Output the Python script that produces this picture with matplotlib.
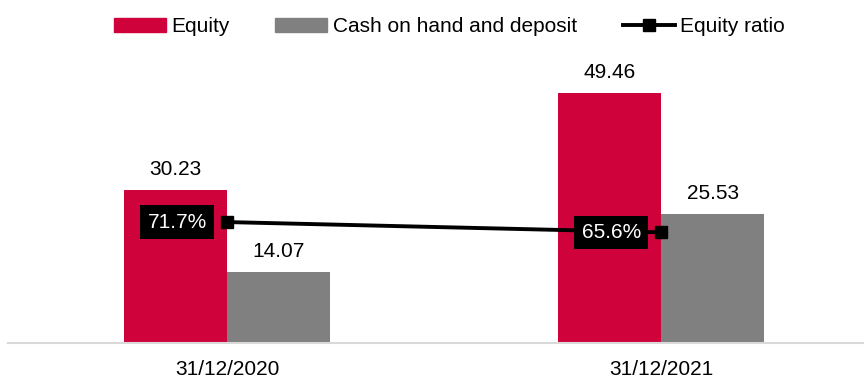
import numpy as np
import matplotlib
matplotlib.use("Agg")
import matplotlib.pyplot as plt
from matplotlib.lines import Line2D
from matplotlib.patches import Patch

plt.rcParams['font.family'] = ['Liberation Sans', 'DejaVu Sans']
plt.rcParams['font.size'] = 15

categories = ["31/12/2020", "31/12/2021"]
equity = [30.23, 49.46]
cash = [14.07, 25.53]
equity_ratio = [0.717, 0.656]

red = '#D0023C'
grey = '#808080'

fig = plt.figure(figsize=(8.64, 3.79), dpi=100)
ax = fig.add_axes([8/864, 1 - 343/379, 856/864, 303.6/379])

x = np.arange(len(categories))
w = 0.238
b1 = ax.bar(x - w/2, equity, w, color=red, zorder=2)
b2 = ax.bar(x + w/2, cash, w, color=grey, zorder=2)

for bars, vals in ((b1, equity), (b2, cash)):
    for r, v in zip(bars, vals):
        ax.annotate(f"{v:.2f}", (r.get_x() + r.get_width()/2, v),
                    xytext=(0, 8), textcoords='offset points',
                    ha='center', va='bottom', fontsize=15)

ax.set_xlim(-0.505, 1.468)
ax.set_ylim(0, 60)
ax.set_xticks(x)
ax.set_xticklabels(categories)
ax.tick_params(axis='x', length=0, pad=12, labelsize=15)
ax.set_yticks([])
for s in ['top', 'right', 'left']:
    ax.spines[s].set_visible(False)
ax.spines['bottom'].set_color('#d9d9d9')
ax.spines['bottom'].set_linewidth(1.5)

ax2 = ax.twinx()
ax2.set_ylim(0, 1.8)
ax2.plot(x, equity_ratio, color='black', lw=2.8, marker='s', ms=9, zorder=3)
for xi, v in zip(x, equity_ratio):
    ax2.annotate(f"{v*100:.1f}%", (xi, v), xytext=(-14.5, 0),
                 textcoords='offset points', ha='right', va='center',
                 color='white', fontsize=15,
                 bbox=dict(boxstyle='square,pad=0.35', fc='black', ec='none'))
ax2.set_yticks([])
for s in ax2.spines.values():
    s.set_visible(False)

handles = [Patch(color=red, label='Equity'),
           Patch(color=grey, label='Cash on hand and deposit'),
           Line2D([], [], color='black', lw=2.8, marker='s', ms=8, label='Equity ratio')]
fig.legend(handles=handles, loc='center', bbox_to_anchor=(0.52, 0.929), ncol=3,
           frameon=False, fontsize=15, handlelength=2.5, handletextpad=0.25,
           columnspacing=2.2, handleheight=0.65)

fig.savefig('out.png', dpi=100)
